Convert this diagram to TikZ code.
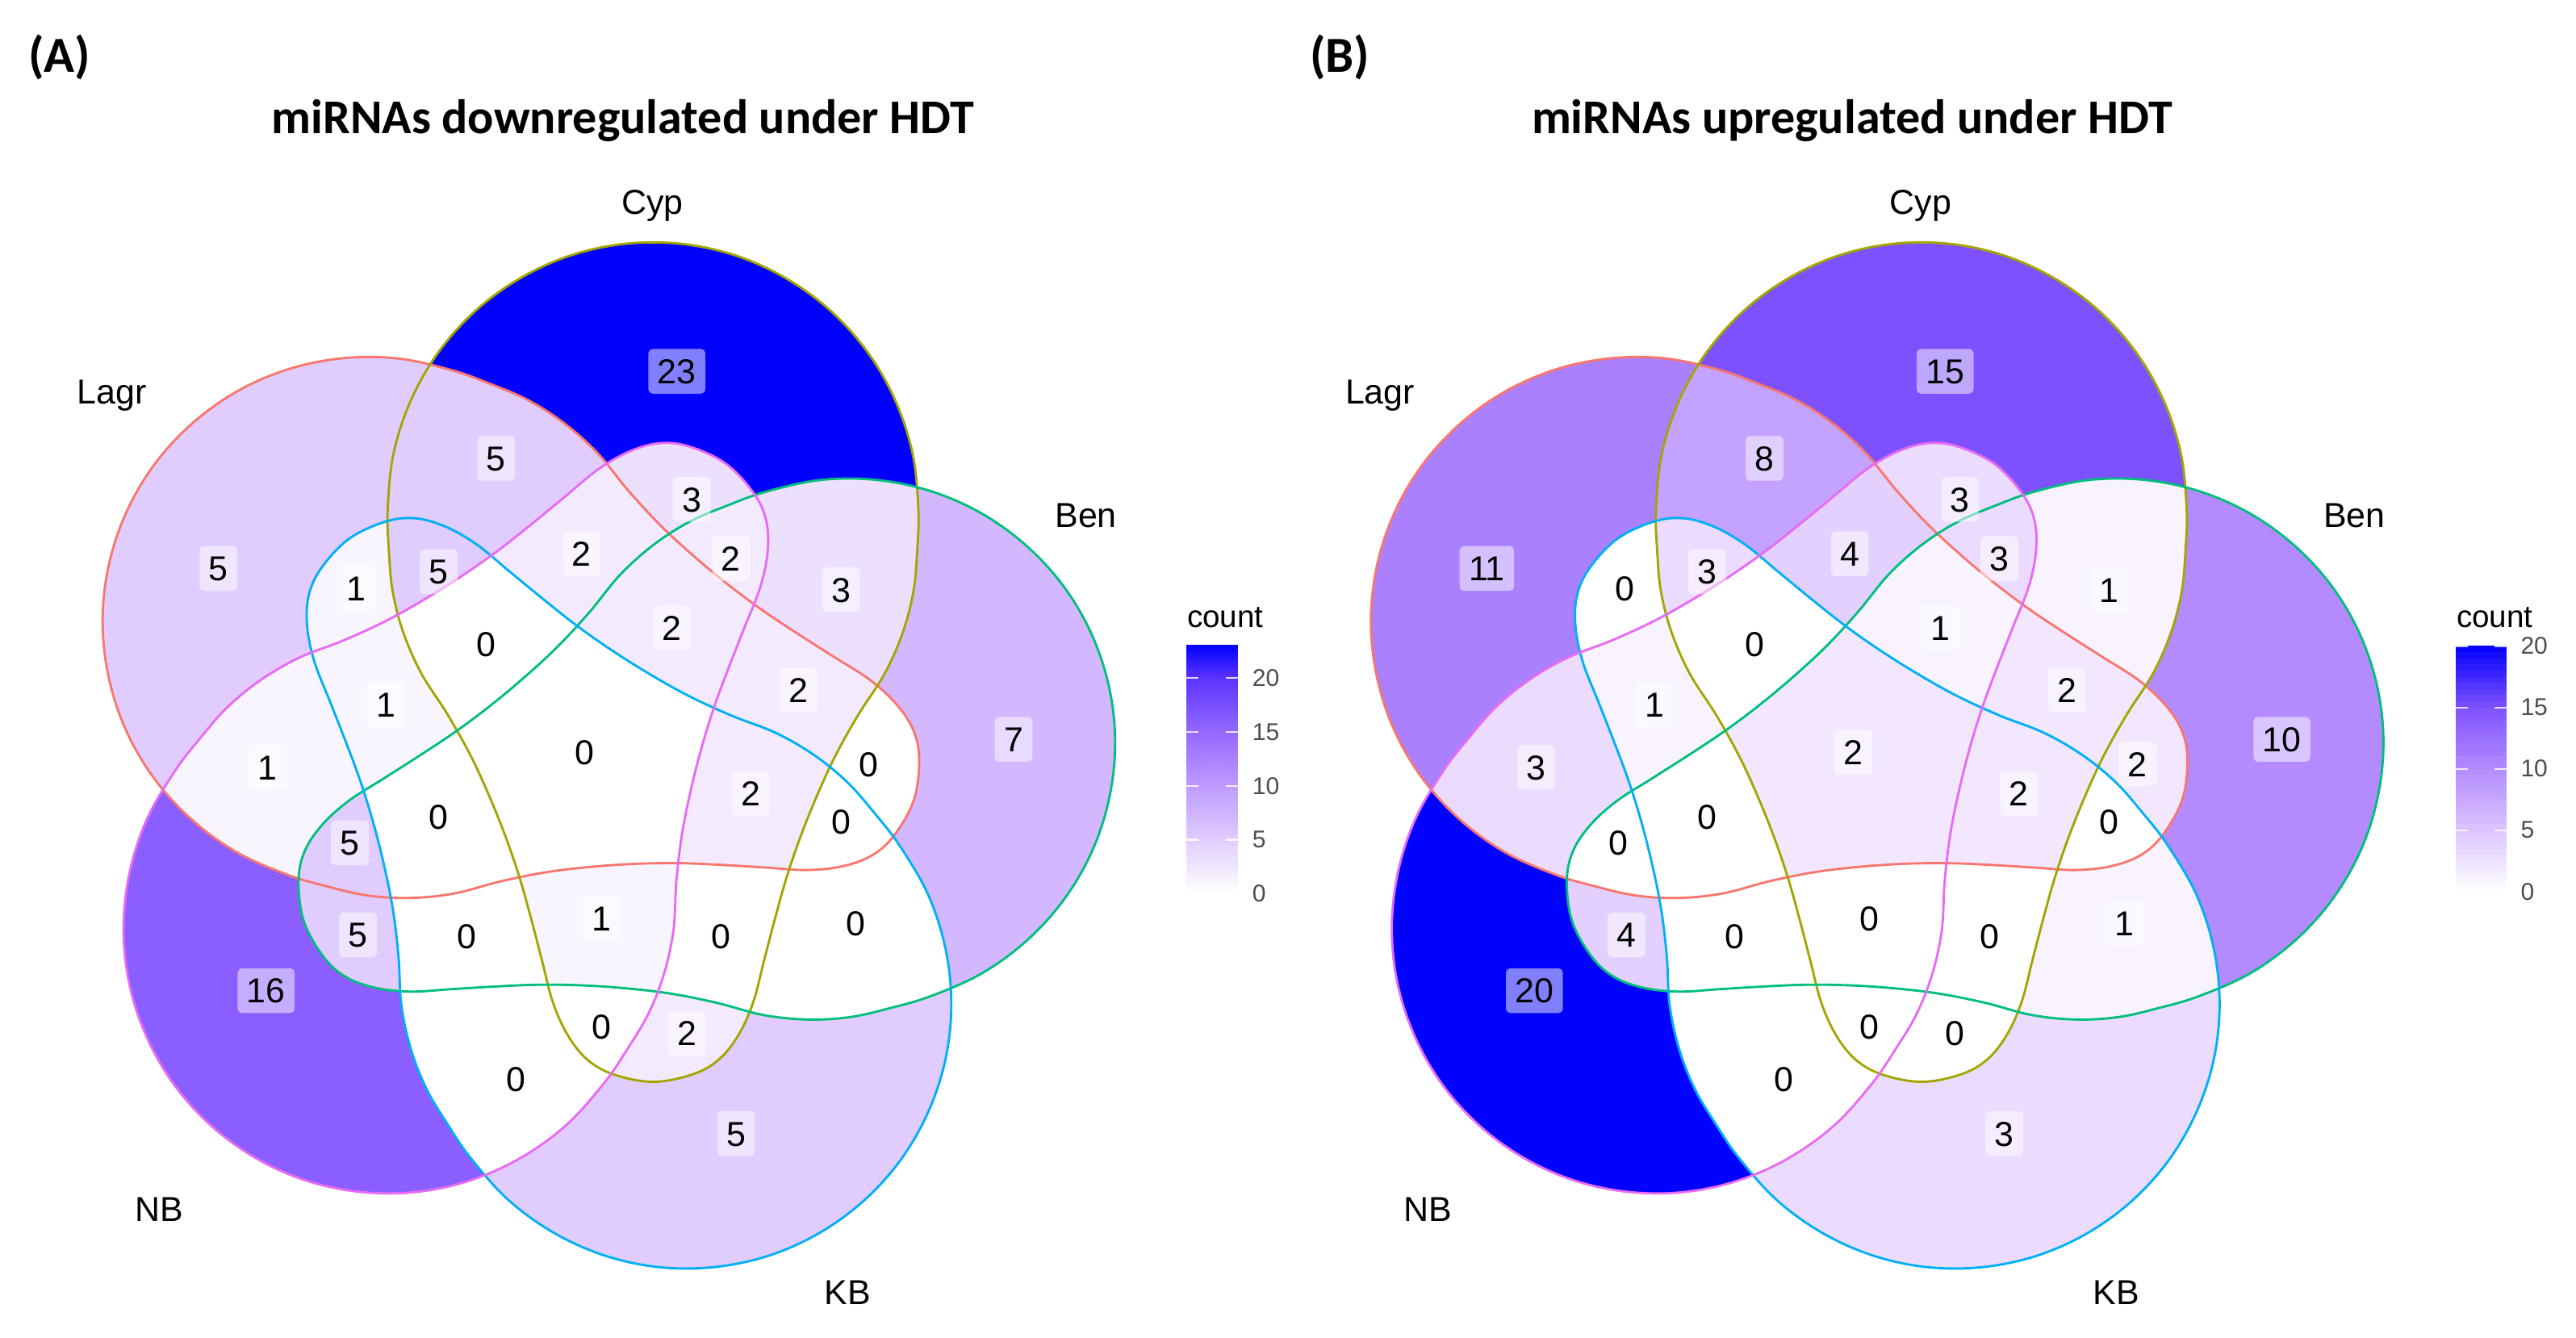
\documentclass[tikz,border=0pt]{standalone}
\usepackage{fontspec}
\setmainfont{Liberation Sans}
\newfontfamily\titlefont{Carlito}
\definecolor{aone}{RGB}{249,245,255}
\definecolor{atwo}{RGB}{243,234,255}
\definecolor{athree}{RGB}{237,224,255}
\definecolor{afive}{RGB}{225,204,255}
\definecolor{aseven}{RGB}{212,184,255}
\definecolor{aten}{RGB}{190,154,255}
\definecolor{afifteen}{RGB}{149,104,255}
\definecolor{asixteen}{RGB}{139,94,255}
\definecolor{atwenty}{RGB}{91,51,255}
\definecolor{atwentythree}{RGB}{0,0,255}
\definecolor{bone}{RGB}{248,243,255}
\definecolor{btwo}{RGB}{242,231,255}
\definecolor{bthree}{RGB}{235,220,255}
\definecolor{bfour}{RGB}{227,208,255}
\definecolor{bfive}{RGB}{220,196,255}
\definecolor{beight}{RGB}{196,162,255}
\definecolor{bten}{RGB}{179,139,255}
\definecolor{beleven}{RGB}{170,128,255}
\definecolor{bfifteen}{RGB}{126,81,255}
\definecolor{btwenty}{RGB}{0,0,255}
\definecolor{lagrcol}{HTML}{F8766D}
\definecolor{cypcol}{HTML}{A3A500}
\definecolor{bencol}{HTML}{00BF7D}
\definecolor{kbcol}{HTML}{00B0F6}
\definecolor{nbcol}{HTML}{E76BF3}
\definecolor{ticktext}{HTML}{4D4D4D}
\newcommand\vshp{plot[smooth cycle,tension=0.6] coordinates {(-122.6,-153.2) (-119.1,-187.0) (-108.6,-219.3) (-91.8,-248.7) (-69.2,-274.0) (-41.85,-293.9) (-11.0,-307.8) (22.0,-314.8) (55.8,-314.8) (88.8,-307.8) (119.65,-293.9) (147.0,-274.0) (169.6,-248.7) (186.4,-219.3) (196.9,-187.0) (200.4,-153.2) (199.7,-128.2) (197.4,-103.2) (190.9,-78.2) (179.9,-53.2) (163.9,-28.2) (149.9,-3.2) (138.4,21.8) (128.4,46.8) (119.9,71.8) (112.9,96.8) (106.4,121.8) (99.9,146.8) (90.9,166.8) (78.9,181.8) (62.9,190.8) (38.9,195.3) (14.9,190.8) (-1.1,181.8) (-13.1,166.8) (-22.1,146.8) (-28.6,121.8) (-35.1,96.8) (-42.1,71.8) (-50.6,46.8) (-60.6,21.8) (-72.1,-3.2) (-86.1,-28.2) (-102.1,-53.2) (-113.1,-78.2) (-119.6,-103.2) (-121.9,-128.2)}}
\newcommand\vclip[1]{\clip[shift={(358.6,463.2)},rotate=-72*#1] \vshp;}
\newcommand\vreg[2]{\begin{scope}#1\fill[#2] (-900,-100) rectangle (1700,900);\end{scope}}
\newcommand\vout[2]{\draw[#2,line width=0.8pt,shift={(358.6,463.2)},rotate=-72*#1] \vshp;}
\newcommand\cbseg[6]{%
  \foreach \j in {0,...,9}{%
    \pgfmathsetmacro\ya{#3+(#4-#3)*\j/10}%
    \pgfmathsetmacro\yb{#3+(#4-#3)*(\j+1)/10-0.4}%
    \pgfmathsetmacro\pp{(\j+0.5)*10}%
    \fill[#6!\pp!#5] (#1,\ya) rectangle (#2,\yb);}}
\tikzset{
  cnt/.style={fill=white,fill opacity=0.5,text opacity=1,rounded corners=1.5pt,inner xsep=3.2pt,inner ysep=0pt,minimum height=15.5pt,text height=8.6pt,text depth=0pt,font=\fontsize{12}{12}\selectfont},
  setlab/.style={font=\fontsize{12}{12}\selectfont,inner sep=0pt},
  ticklab/.style={anchor=west,inner sep=0pt,text=ticktext,font=\fontsize{8.4}{8.4}\selectfont},
  legtitle/.style={anchor=west,inner sep=0pt,font=\fontsize{10.8}{10.8}\selectfont},
  ttl/.style={anchor=base west,inner sep=0pt,font=\titlefont\bfseries\fontsize{16.8}{16.8}\selectfont},
  tag/.style={anchor=west,inner sep=0pt,font=\titlefont\bfseries\fontsize{17.5}{17.5}\selectfont},
  tickmark/.style={white,line width=0.6pt,opacity=0.8}
}
\begin{document}
\begin{tikzpicture}[x=0.02cm,y=-0.02cm]
\useasboundingbox (0,0) rectangle (1568,814.4);
% ================= PANEL A =================
\begin{scope}
\vreg{\vclip0}{atwentythree}
\vreg{\vclip1}{aseven}
\vreg{\vclip2}{afive}
\vreg{\vclip3}{asixteen}
\vreg{\vclip4}{afive}
\vreg{\vclip0\vclip4}{afive}
\vreg{\vclip2\vclip4}{aone}
\vreg{\vclip0\vclip3}{athree}
\vreg{\vclip0\vclip1}{athree}
\vreg{\vclip3\vclip4}{aone}
\vreg{\vclip1\vclip4}{white}
\vreg{\vclip1\vclip3}{afive}
\vreg{\vclip1\vclip2}{white}
\vreg{\vclip0\vclip2}{atwo}
\vreg{\vclip2\vclip3}{white}
\vreg{\vclip0\vclip2\vclip4}{afive}
\vreg{\vclip0\vclip3\vclip4}{atwo}
\vreg{\vclip0\vclip1\vclip3}{atwo}
\vreg{\vclip0\vclip1\vclip4}{atwo}
\vreg{\vclip2\vclip3\vclip4}{aone}
\vreg{\vclip1\vclip2\vclip4}{white}
\vreg{\vclip1\vclip3\vclip4}{afive}
\vreg{\vclip1\vclip2\vclip3}{white}
\vreg{\vclip0\vclip1\vclip2}{white}
\vreg{\vclip0\vclip2\vclip3}{white}
\vreg{\vclip0\vclip1\vclip3\vclip4}{atwo}
\vreg{\vclip0\vclip2\vclip3\vclip4}{white}
\vreg{\vclip0\vclip1\vclip2\vclip4}{atwo}
\vreg{\vclip1\vclip2\vclip3\vclip4}{white}
\vreg{\vclip0\vclip1\vclip2\vclip3}{aone}
\vreg{\vclip0\vclip1\vclip2\vclip3\vclip4}{white}
\vout{4}{lagrcol}
\vout{0}{cypcol}
\vout{1}{bencol}
\vout{2}{kbcol}
\vout{3}{nbcol}
\node[setlab] (aCyp) at (397,125) {Cyp};
\node[setlab] (aLagr) at (68,241) {Lagr};
\node[setlab] (aBen) at (661,314) {Ben};
\node[setlab] (aNB) at (97,736) {NB};
\node[setlab] (aKB) at (516,787) {KB};
\node[cnt] (aC) at (412,226) {23};
\node[cnt] (aCL) at (302,279) {5};
\node[cnt] (aL) at (133,346) {5};
\node[cnt] (aKL) at (217,358) {1};
\node[cnt] (aCKL) at (267,348) {5};
\node[cnt] (aCNL) at (354,337) {2};
\node[cnt] (aCN) at (421,304) {3};
\node[cnt] (aCBN) at (445,340) {2};
\node[cnt] (aCB) at (512,359) {3};
\node[cnt] (aCBNL) at (409,382) {2};
\node[cnt] (aCKNL) at (296,392) {0};
\node[cnt] (aKNL) at (235,429) {1};
\node[cnt] (aNL) at (163,467) {1};
\node[cnt] (aAll) at (356,458) {0};
\node[cnt] (aCBL) at (486,420) {2};
\node[cnt] (aB) at (617,450) {7};
\node[cnt] (aBL) at (529,465) {0};
\node[cnt] (aCBKL) at (457,483) {2};
\node[cnt] (aBKL) at (512,500) {0};
\node[cnt] (aBKNL) at (267,497) {0};
\node[cnt] (aBNL) at (213,513) {5};
\node[cnt] (aBN) at (218,569) {5};
\node[cnt] (aBKN) at (284,570) {0};
\node[cnt] (aCBKN) at (366,559) {1};
\node[cnt] (aCBK) at (439,570) {0};
\node[cnt] (aBK) at (521,562) {0};
\node[cnt] (aN) at (162,603) {16};
\node[cnt] (aCKN) at (366,625) {0};
\node[cnt] (aCK) at (418,629) {2};
\node[cnt] (aKN) at (314,657) {0};
\node[cnt] (aK) at (448,690) {5};
% colour bar A
\cbseg{722.3}{753.4}{543.9}{511.1}{white}{afive}
\cbseg{722.3}{753.4}{511.1}{478.3}{afive}{aten}
\cbseg{722.3}{753.4}{478.3}{445.5}{aten}{afifteen}
\cbseg{722.3}{753.4}{445.5}{412.7}{afifteen}{atwenty}
\cbseg{722.3}{753.4}{412.7}{393.0}{atwenty}{atwentythree}
\foreach \t in {543.9,511.1,478.3,445.5,412.7}{
  \draw[tickmark] (722.3,\t) -- (729.3,\t);
  \draw[tickmark] (753.4,\t) -- (746.4,\t);}
\node[legtitle] (aCount) at (722.3,375.7) {count};
\node[ticklab] (aT20) at (762,412.7) {20};
\node[ticklab] (aT15) at (762,445.5) {15};
\node[ticklab] (aT10) at (762,478.3) {10};
\node[ticklab] (aT5) at (762,511.1) {5};
\node[ticklab] (aT0) at (762,543.9) {0};
\node[ttl] (aTitle) at (165,81.5) {miRNAs downregulated under HDT};
\node[tag] (aTag) at (17,35) {(A)};
\end{scope}
% ================= PANEL B =================
\begin{scope}[shift={(772,0)}]
\vreg{\vclip0}{bfifteen}
\vreg{\vclip1}{bten}
\vreg{\vclip2}{bthree}
\vreg{\vclip3}{btwenty}
\vreg{\vclip4}{beleven}
\vreg{\vclip0\vclip4}{beight}
\vreg{\vclip2\vclip4}{white}
\vreg{\vclip0\vclip3}{bthree}
\vreg{\vclip0\vclip1}{bone}
\vreg{\vclip3\vclip4}{bthree}
\vreg{\vclip1\vclip4}{btwo}
\vreg{\vclip1\vclip3}{bfour}
\vreg{\vclip1\vclip2}{bone}
\vreg{\vclip0\vclip2}{white}
\vreg{\vclip2\vclip3}{white}
\vreg{\vclip0\vclip2\vclip4}{bthree}
\vreg{\vclip0\vclip3\vclip4}{bfour}
\vreg{\vclip0\vclip1\vclip3}{bthree}
\vreg{\vclip0\vclip1\vclip4}{btwo}
\vreg{\vclip2\vclip3\vclip4}{bone}
\vreg{\vclip1\vclip2\vclip4}{white}
\vreg{\vclip1\vclip3\vclip4}{white}
\vreg{\vclip1\vclip2\vclip3}{white}
\vreg{\vclip0\vclip1\vclip2}{white}
\vreg{\vclip0\vclip2\vclip3}{white}
\vreg{\vclip0\vclip1\vclip3\vclip4}{bone}
\vreg{\vclip0\vclip2\vclip3\vclip4}{white}
\vreg{\vclip0\vclip1\vclip2\vclip4}{btwo}
\vreg{\vclip1\vclip2\vclip3\vclip4}{white}
\vreg{\vclip0\vclip1\vclip2\vclip3}{white}
\vreg{\vclip0\vclip1\vclip2\vclip3\vclip4}{btwo}
\vout{4}{lagrcol}
\vout{0}{cypcol}
\vout{1}{bencol}
\vout{2}{kbcol}
\vout{3}{nbcol}
\node[setlab] (bCyp) at (397,125) {Cyp};
\node[setlab] (bLagr) at (68,241) {Lagr};
\node[setlab] (bBen) at (661,314) {Ben};
\node[setlab] (bNB) at (97,736) {NB};
\node[setlab] (bKB) at (516,787) {KB};
\node[cnt] (bC) at (412,226) {15};
\node[cnt] (bCL) at (302,279) {8};
\node[cnt] (bL) at (133,346) {11};
\node[cnt] (bKL) at (217,358) {0};
\node[cnt] (bCKL) at (267,348) {3};
\node[cnt] (bCNL) at (354,337) {4};
\node[cnt] (bCN) at (421,304) {3};
\node[cnt] (bCBN) at (445,340) {3};
\node[cnt] (bCB) at (512,359) {1};
\node[cnt] (bCBNL) at (409,382) {1};
\node[cnt] (bCKNL) at (296,392) {0};
\node[cnt] (bKNL) at (235,429) {1};
\node[cnt] (bNL) at (163,467) {3};
\node[cnt] (bAll) at (356,458) {2};
\node[cnt] (bCBL) at (486,420) {2};
\node[cnt] (bB) at (617,450) {10};
\node[cnt] (bBL) at (529,465) {2};
\node[cnt] (bCBKL) at (457,483) {2};
\node[cnt] (bBKL) at (512,500) {0};
\node[cnt] (bBKNL) at (267,497) {0};
\node[cnt] (bBNL) at (213,513) {0};
\node[cnt] (bBN) at (218,569) {4};
\node[cnt] (bBKN) at (284,570) {0};
\node[cnt] (bCBKN) at (366,559) {0};
\node[cnt] (bCBK) at (439,570) {0};
\node[cnt] (bBK) at (521,562) {1};
\node[cnt] (bN) at (162,603) {20};
\node[cnt] (bCKN) at (366,625) {0};
\node[cnt] (bCK) at (418,629) {0};
\node[cnt] (bKN) at (314,657) {0};
\node[cnt] (bK) at (448,690) {3};
% colour bar B
\cbseg{723}{753.5}{542.7}{505.3}{white}{bfive}
\cbseg{723}{753.5}{505.3}{467.95}{bfive}{bten}
\cbseg{723}{753.5}{467.95}{430.6}{bten}{bfifteen}
\cbseg{723}{753.5}{430.6}{393.2}{bfifteen}{btwenty}
\foreach \t in {542.7,505.3,467.95,430.6,393.2}{
  \draw[tickmark] (723,\t) -- (730,\t);
  \draw[tickmark] (753.5,\t) -- (746.5,\t);}
\node[legtitle] (bCount) at (723,375.7) {count};
\node[ticklab] (bT20) at (762,393.2) {20};
\node[ticklab] (bT15) at (762,430.6) {15};
\node[ticklab] (bT10) at (762,467.95) {10};
\node[ticklab] (bT5) at (762,505.3) {5};
\node[ticklab] (bT0) at (762,542.7) {0};
\node[ttl] (bTitle) at (160,81.5) {miRNAs upregulated under HDT};
\node[tag] (bTag) at (25,35) {(B)};
\end{scope}
\end{tikzpicture}
\end{document}
